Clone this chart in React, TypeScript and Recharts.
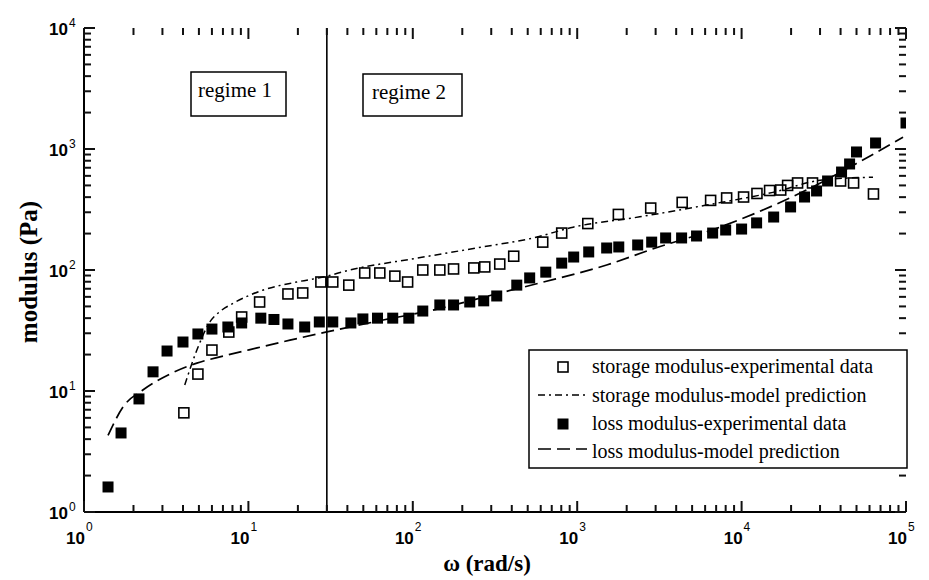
import React from 'react';
import {
  ComposedChart,
  Line,
  Scatter,
  XAxis,
  YAxis,
  ReferenceLine,
  ReferenceDot,
} from 'recharts';

// ---------- data ----------
const lossExp = [
  { w: 1.4, g: 1.61 }, { w: 1.68, g: 4.5 }, { w: 2.16, g: 8.6 }, { w: 2.63, g: 14.4 },
  { w: 3.2, g: 21.4 }, { w: 4.0, g: 25.4 }, { w: 4.93, g: 29.6 }, { w: 6.0, g: 32.5 },
  { w: 7.5, g: 33.8 }, { w: 9.1, g: 36.5 }, { w: 11.9, g: 40 }, { w: 14.3, g: 39 },
  { w: 17.4, g: 35.8 }, { w: 22, g: 33.8 }, { w: 27, g: 37.2 }, { w: 32.6, g: 37.2 },
  { w: 42, g: 36.5 }, { w: 49.7, g: 39.4 }, { w: 61, g: 40 }, { w: 75.5, g: 40 },
  { w: 94.6, g: 40 }, { w: 115, g: 45.8 }, { w: 146, g: 51.4 }, { w: 177, g: 51.4 },
  { w: 222, g: 54.4 }, { w: 270, g: 55.6 }, { w: 324, g: 61 }, { w: 429, g: 75 },
  { w: 514, g: 86 }, { w: 644, g: 96 }, { w: 805, g: 114 }, { w: 952, g: 128 },
  { w: 1175, g: 141 }, { w: 1511, g: 152 }, { w: 1790, g: 155 }, { w: 2333, g: 161 },
  { w: 2838, g: 170 }, { w: 3451, g: 184 }, { w: 4316, g: 184 }, { w: 5320, g: 191 },
  { w: 6665, g: 202 }, { w: 8000, g: 214 }, { w: 10000, g: 218 }, { w: 12340, g: 245 },
  { w: 15670, g: 274 }, { w: 19860, g: 332 }, { w: 24150, g: 401 }, { w: 28580, g: 450 },
  { w: 33340, g: 544 }, { w: 40550, g: 645 }, { w: 45390, g: 752 }, { w: 50000, g: 945 },
  { w: 65300, g: 1121 }, { w: 100000, g: 1640 },
];

const storageExp = [
  { w: 4.05, g: 6.6 }, { w: 4.93, g: 13.8 }, { w: 6.0, g: 21.8 }, { w: 7.6, g: 30.7 },
  { w: 9.1, g: 40.9 }, { w: 11.7, g: 54.4 }, { w: 17.4, g: 63.4 }, { w: 21.4, g: 64.6 },
  { w: 27.6, g: 79.6 }, { w: 32.6, g: 79.6 }, { w: 40.8, g: 75 }, { w: 51, g: 94.5 },
  { w: 63, g: 94.5 }, { w: 77.8, g: 89 }, { w: 93, g: 79.6 }, { w: 115, g: 100 },
  { w: 146, g: 100 }, { w: 177, g: 102 }, { w: 235, g: 104 }, { w: 274, g: 106 },
  { w: 338, g: 112 }, { w: 411, g: 130 }, { w: 617, g: 170 }, { w: 805, g: 202 },
  { w: 1160, g: 242 }, { w: 1780, g: 288 }, { w: 2800, g: 325 }, { w: 4350, g: 362 },
  { w: 6480, g: 376 }, { w: 8110, g: 394 }, { w: 10280, g: 401 }, { w: 12400, g: 429 },
  { w: 14800, g: 454 }, { w: 17300, g: 458 }, { w: 19050, g: 500 }, { w: 21900, g: 524 },
  { w: 27000, g: 524 }, { w: 40000, g: 544 }, { w: 48000, g: 524 }, { w: 63400, g: 425 },
];

const storageModel = [
  { w: 4.1, g: 11.2 }, { w: 4.86, g: 21.8 }, { w: 5.83, g: 37.2 }, { w: 6.8, g: 46 },
  { w: 8.06, g: 53 }, { w: 12.2, g: 68 }, { w: 19.7, g: 79.6 }, { w: 28.5, g: 87.5 },
  { w: 41.4, g: 100 }, { w: 105, g: 125 }, { w: 265, g: 155 }, { w: 540, g: 184 },
  { w: 945, g: 226 }, { w: 2400, g: 275 }, { w: 6100, g: 344 }, { w: 15500, g: 438 },
  { w: 31000, g: 555 }, { w: 63000, g: 585 },
];

const lossModel = [
  { w: 1.4, g: 4.3 }, { w: 1.73, g: 7.4 }, { w: 2.28, g: 10.2 }, { w: 3.33, g: 13.8 },
  { w: 4.86, g: 17.0 }, { w: 7.0, g: 19.4 }, { w: 11.3, g: 22.7 }, { w: 17.9, g: 26.3 },
  { w: 30, g: 30.8 }, { w: 66, g: 38.6 }, { w: 132, g: 46.6 }, { w: 338, g: 64.5 },
  { w: 600, g: 78.5 }, { w: 1510, g: 110 }, { w: 3000, g: 152 }, { w: 6100, g: 206 },
  { w: 12300, g: 297 }, { w: 24800, g: 458 }, { w: 50000, g: 760 }, { w: 96000, g: 1250 },
];

const xMajorTicks = [1, 10, 100, 1000, 10000, 100000];
const yMajorTicks = [1, 10, 100, 1000, 10000];
const minorMultipliers = [2, 3, 4, 5, 6, 7, 8, 9];
const regimeLine = 30;
const regimeLabels = ['regime 1', 'regime 2'];
const legendLabels = [
  'storage modulus-experimental data',
  'storage modulus-model prediction',
  'loss modulus-experimental data',
  'loss modulus-model prediction',
];
const xTitle = 'ω (rad/s)';
const yTitle = 'modulus (Pa)';

const withMinor = (majors: number[]) => {
  const out: number[] = [];
  majors.forEach((m, i) => {
    out.push(m);
    if (i < majors.length - 1) minorMultipliers.forEach((k) => out.push(m * k));
  });
  return out;
};
const xTicks = withMinor(xMajorTicks);
const yTicks = withMinor(yMajorTicks);
const X_MIN = xMajorTicks[0];
const X_MAX = xMajorTicks[xMajorTicks.length - 1];
const Y_MIN = yMajorTicks[0];
const Y_MAX = yMajorTicks[yMajorTicks.length - 1];

const SERIF = "'Liberation Serif', 'Times New Roman', serif";
const SANS = "'Liberation Sans', Arial, sans-serif";
const MAJOR = 11;
const MINOR = 7;
const TICK_W = 2;
const INK = '#111';
const isMajor = (v: number) => xMajorTicks.includes(v) || yMajorTicks.includes(v);
const expOf = (v: number) => String(Math.round(Math.log10(v)));

// inward tick mark drawn at a reference dot on the frame
const markShape = (L: number, dx: number, dy: number) => (p: any) => {
  const cx = Number(p.cx);
  const cy = Number(p.cy);
  return (
    <path d={`M${cx},${cy}L${cx + dx * L},${cy + dy * L}`} stroke={INK} strokeWidth={TICK_W} fill="none" />
  );
};

const BottomLabel = (p: any) => {
  const x = Number(p.x);
  const y = Number(p.y);
  const v = p.payload.value;
  if (!isMajor(v)) return <g />;
  return (
    <g>
      <text x={x + 1} y={y + 32} textAnchor="end" fontFamily={SANS} fontWeight="bold" fontSize={17} fill="#000">10</text>
      <text x={x + 2} y={y + 19} textAnchor="start" fontFamily={SANS} fontSize={12} fill="#000">{expOf(v)}</text>
    </g>
  );
};

const LeftLabel = (p: any) => {
  const x = Number(p.x);
  const y = Number(p.y);
  const v = p.payload.value;
  return (
    <g>
      <text x={x - 16} y={y + 7} textAnchor="end" fontFamily={SANS} fontWeight="bold" fontSize={17} fill="#000">10</text>
      <text x={x - 15} y={y - 1} textAnchor="start" fontFamily={SANS} fontSize={12} fill="#000">{expOf(v)}</text>
    </g>
  );
};

const OpenSquare = (p: any) => (
  <rect x={p.cx - 5} y={p.cy - 5} width={10} height={10} fill="none" stroke="#000" strokeWidth={1.6} />
);
const FilledSquare = (p: any) => (
  <rect x={p.cx - 5.5} y={p.cy - 5.5} width={11} height={11} fill="#000" />
);

const W = 913;
const H = 572;
const axisStyle = { stroke: '#000', strokeWidth: 2 };
const DASH_DOT = '7 4 2 4';
const LONG_DASH = '13 6';

export default function App() {
  return (
    <div style={{ position: 'relative', width: W, height: H, background: '#fff' }}>
      <ComposedChart width={W} height={H} margin={{ top: 20, right: 15, bottom: 0, left: 0 }}>
        <XAxis
          dataKey="w"
          type="number"
          scale="log"
          domain={[X_MIN, X_MAX]}
          allowDataOverflow
          ticks={xTicks}
          interval={0}
          tickSize={0}
          tickMargin={0}
          height={68}
          axisLine={axisStyle}
          tickLine={false}
          tick={<BottomLabel />}
        />
        <XAxis
          xAxisId="top"
          orientation="top"
          type="number"
          scale="log"
          domain={[X_MIN, X_MAX]}
          allowDataOverflow
          ticks={xMajorTicks}
          height={0}
          axisLine={axisStyle}
          tickLine={false}
          tick={false}
        />
        <YAxis
          type="number"
          scale="log"
          domain={[Y_MIN, Y_MAX]}
          allowDataOverflow
          ticks={yMajorTicks}
          interval={0}
          tickSize={0}
          tickMargin={0}
          width={76}
          axisLine={axisStyle}
          tickLine={false}
          tick={<LeftLabel />}
        />
        <YAxis
          yAxisId="right"
          orientation="right"
          type="number"
          scale="log"
          domain={[Y_MIN, Y_MAX]}
          allowDataOverflow
          ticks={yMajorTicks}
          width={0}
          axisLine={axisStyle}
          tickLine={false}
          tick={false}
        />
        <ReferenceLine x={regimeLine} stroke="#000" strokeWidth={1.6} />

        <Line
          data={storageModel}
          dataKey="g"
          type="monotone"
          stroke="#000"
          strokeWidth={1.5}
          strokeDasharray={DASH_DOT}
          dot={false}
          activeDot={false}
          isAnimationActive={false}
        />
        <Line
          data={lossModel}
          dataKey="g"
          type="monotone"
          stroke="#000"
          strokeWidth={1.7}
          strokeDasharray={LONG_DASH}
          dot={false}
          activeDot={false}
          isAnimationActive={false}
        />
        <Scatter data={storageExp} dataKey="g" shape={<OpenSquare />} isAnimationActive={false} />
        <Scatter data={lossExp} dataKey="g" shape={<FilledSquare />} isAnimationActive={false} />

        {/* inward tick marks on all four sides */}
        {xTicks.map((v) => (
          <ReferenceDot key={`b${v}`} x={v} y={Y_MIN} r={1} ifOverflow="visible" shape={markShape(isMajor(v) ? MAJOR : MINOR, 0, -1)} />
        ))}
        {xTicks.map((v) => (
          <ReferenceDot key={`t${v}`} x={v} y={Y_MAX} r={1} ifOverflow="visible" shape={markShape(isMajor(v) ? MAJOR : MINOR, 0, 1)} />
        ))}
        {yTicks.map((v) => (
          <ReferenceDot key={`l${v}`} x={X_MIN} y={v} r={1} ifOverflow="visible" shape={markShape(isMajor(v) ? MAJOR : MINOR, 1, 0)} />
        ))}
        {yTicks.map((v) => (
          <ReferenceDot key={`r${v}`} x={X_MAX} y={v} r={1} ifOverflow="visible" shape={markShape(isMajor(v) ? MAJOR : MINOR, -1, 0)} />
        ))}
      </ComposedChart>

      <svg
        width={W}
        height={H}
        style={{ position: 'absolute', left: 0, top: 0, pointerEvents: 'none', overflow: 'visible' }}
      >
        <rect x={183} y={64} width={95} height={44} fill="#fff" stroke="#000" strokeWidth={1.5} />
        <text x={190} y={89} fontFamily={SERIF} fontSize={21} fill="#000">{regimeLabels[0]}</text>
        <rect x={355} y={66} width={99} height={42} fill="#fff" stroke="#000" strokeWidth={1.5} />
        <text x={364} y={91} fontFamily={SERIF} fontSize={21} fill="#000">{regimeLabels[1]}</text>

        <rect x={521} y={342} width={378} height={118} fill="#fff" stroke="#000" strokeWidth={1.5} />
        <rect x={550} y={354} width={10} height={10} fill="none" stroke="#000" strokeWidth={1.6} />
        <line x1={530} x2={579} y1={387} y2={387} stroke="#000" strokeWidth={1.5} strokeDasharray={DASH_DOT} />
        <rect x={549.5} y={410.5} width={11} height={11} fill="#000" />
        <line x1={530} x2={579} y1={441} y2={441} stroke="#000" strokeWidth={1.7} strokeDasharray={LONG_DASH} />
        {legendLabels.map((t, i) => (
          <text key={t} x={584} y={365 + [0, 29, 57, 85][i]} fontFamily={SERIF} fontSize={20} fill="#000">
            {t}
          </text>
        ))}

        <text
          x={20}
          y={264}
          transform="rotate(-90 20 264)"
          textAnchor="middle"
          dominantBaseline="central"
          fontFamily={SERIF}
          fontWeight="bold"
          fontSize={25}
          fill="#000"
        >
          {yTitle}
        </text>
        <text x={479} y={563} textAnchor="middle" fontFamily={SERIF} fontWeight="bold" fontSize={23} fill="#000">
          {xTitle}
        </text>
      </svg>
    </div>
  );
}
